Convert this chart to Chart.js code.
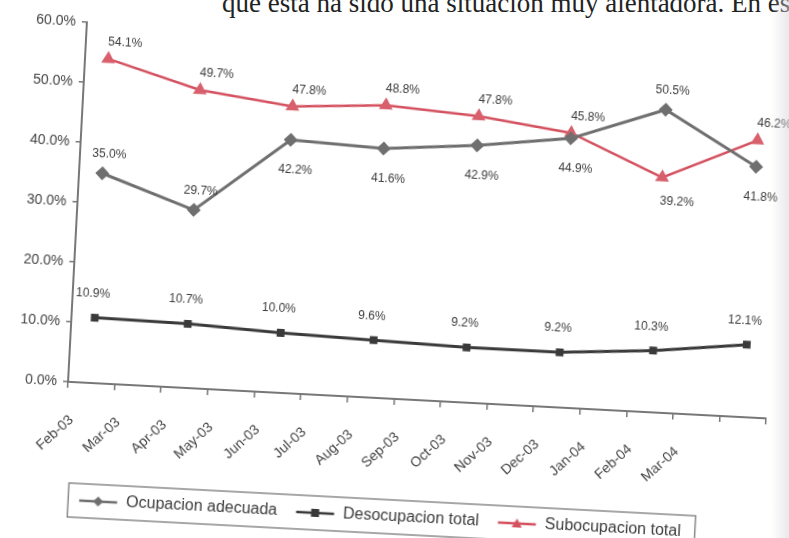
<!DOCTYPE html>
<html>
<head>
<meta charset="utf-8">
<script src="https://cdn.jsdelivr.net/npm/chart.js@4.4.1/dist/chart.umd.min.js"></script>
<style>
  html, body { margin: 0; padding: 0; background: #fff; overflow: hidden; width: 789px; height: 538px; }
  #wrap { position: relative; width: 789px; height: 538px; overflow: hidden; }
  #head { position: absolute; left: 222px; top: -12px; font-family: "Liberation Serif", "DejaVu Serif", serif; font-size: 27px; color: #222; white-space: nowrap; }
  #chart { position: absolute; left: 0; top: 0; transform: rotate(3deg); transform-origin: 420px 220px; filter: blur(0.4px); }
  #edge { position: absolute; right: 0; top: 0; width: 18px; height: 538px; background: linear-gradient(to right, rgba(255,255,255,0), rgba(214,214,220,0.55)); }
</style>
</head>
<body>
<div id="wrap">
  <div id="head">que ésta ha sido una situación muy alentadora. En es</div>
  <canvas id="chart" width="789" height="538"></canvas>
  <div id="edge"></div>
</div>
<script>
// x axis labels (the last slot of the axis has no label)
const monthLabels = ['Feb-03', 'Mar-03', 'Apr-03', 'May-03', 'Jun-03', 'Jul-03', 'Aug-03',
  'Sep-03', 'Oct-03', 'Nov-03', 'Dec-03', 'Jan-04', 'Feb-04', 'Mar-04', '']
// which month slot each observation belongs to
const pointMonths = [0, 2, 4, 6, 8, 10, 12, 14]

const ocupacionAdecuada = [35.0, 29.7, 42.2, 41.6, 42.9, 44.9, 50.5, 41.8]
const desocupacionTotal = [10.9, 10.7, 10.0, 9.6, 9.2, 9.2, 10.3, 12.1]
const subocupacionTotal = [54.1, 49.7, 47.8, 48.8, 47.8, 45.8, 39.2, 46.2]

const yTicks = [0, 10, 20, 30, 40, 50, 60]

// spread the observations over the monthly category axis
const toSlots = (values) => {
  const out = monthLabels.map(() => null)
  values.forEach((v, i) => { out[pointMonths[i]] = v })
  return out
}

// label side for each point: -1 above, 1 below
const labelSides = [
  [-1, -1, 1, 1, 1, 1, -1, 1],
  [-1, -1, -1, -1, -1, -1, -1, -1],
  [-1, -1, -1, -1, -1, -1, 1, -1]
]
const labelOffsets = [
  {dx: 6, up: 19, down: 30},
  {dx: -3, up: 24, down: 24},
  {dx: 16, up: 17, down: 24}
]

const GRAY = '#6f6f6f'
const DARK = '#3a3a3a'
const RED = '#d4505f'

const legendIcon = (color, style) => {
  const c = document.createElement('canvas')
  c.width = 40
  c.height = 14
  const g = c.getContext('2d')
  g.strokeStyle = color
  g.fillStyle = color
  g.lineWidth = 2.5
  g.beginPath(); g.moveTo(1, 7); g.lineTo(39, 7); g.stroke()
  g.beginPath()
  if (style === 'diamond') {
    g.moveTo(20, 2); g.lineTo(25, 7); g.lineTo(20, 12); g.lineTo(15, 7)
  } else if (style === 'square') {
    g.rect(16, 3, 8, 8)
  } else {
    g.moveTo(20, 2); g.lineTo(25, 11); g.lineTo(15, 11)
  }
  g.closePath(); g.fill()
  return c
}

const dataLabels = {
  id: 'dataLabels',
  afterDatasetsDraw(chart) {
    const ctx = chart.ctx
    ctx.save()
    ctx.font = '12px "Liberation Sans", Arial, sans-serif'
    ctx.fillStyle = '#3c3c3c'
    ctx.textAlign = 'center'
    ctx.textBaseline = 'middle'
    chart.data.datasets.forEach((ds, di) => {
      const meta = chart.getDatasetMeta(di)
      const off = labelOffsets[di]
      let k = 0
      meta.data.forEach((el, i) => {
        const v = ds.data[i]
        if (v === null) return
        const side = labelSides[di][k]
        k++
        const y = side < 0 ? el.y - off.up : el.y + off.down
        ctx.fillText(v.toFixed(1) + '%', el.x + off.dx, y)
      })
    })
    ctx.restore()
  }
}

const legendFrame = {
  id: 'legendFrame',
  afterDraw(chart) {
    const boxes = chart.legend.legendHitBoxes
    if (!boxes || !boxes.length) return
    const left = Math.min(...boxes.map(b => b.left)) - 10
    const right = Math.max(...boxes.map(b => b.left + b.width)) + 14
    const top = Math.min(...boxes.map(b => b.top)) - 9
    const bottom = Math.max(...boxes.map(b => b.top + b.height)) + 9
    const ctx = chart.ctx
    ctx.save()
    ctx.strokeStyle = '#8a8a8a'
    ctx.lineWidth = 1.5
    ctx.strokeRect(left, top, right - left, bottom - top)
    ctx.restore()
  }
}

const ctx = document.getElementById('chart')
new Chart(ctx, {
  type: 'line',
  data: {
    labels: monthLabels,
    datasets: [
      {
        label: 'Ocupacion adecuada',
        data: toSlots(ocupacionAdecuada),
        borderColor: GRAY,
        backgroundColor: GRAY,
        borderWidth: 3,
        pointStyle: 'rectRot',
        pointRadius: 7,
        pointBorderWidth: 0,
        spanGaps: true,
        tension: 0
      },
      {
        label: 'Desocupacion total',
        data: toSlots(desocupacionTotal),
        borderColor: DARK,
        backgroundColor: DARK,
        borderWidth: 3,
        pointStyle: 'rect',
        pointRadius: 5.5,
        pointBorderWidth: 0,
        spanGaps: true,
        tension: 0
      },
      {
        label: 'Subocupacion total',
        data: toSlots(subocupacionTotal),
        borderColor: RED,
        backgroundColor: '#d8606c',
        borderWidth: 2.5,
        pointStyle: 'triangle',
        pointRadius: 8,
        pointBorderWidth: 0,
        spanGaps: true,
        tension: 0
      }
    ]
  },
  options: {
    responsive: false,
    animation: false,
    devicePixelRatio: 1,
    layout: {padding: {top: 40, right: 7, bottom: 2, left: 8}},
    plugins: {
      tooltip: {enabled: false},
      legend: {
        position: 'bottom',
        labels: {
          usePointStyle: true,
          pointStyleWidth: 40,
          padding: 18,
          color: '#3c3c3c',
          font: {family: '"Liberation Sans", Arial, sans-serif', size: 16},
          generateLabels(chart) {
            const styles = ['diamond', 'square', 'triangle']
            return chart.data.datasets.map((ds, i) => ({
              text: ds.label,
              pointStyle: legendIcon(ds.borderColor, styles[i]),
              fillStyle: ds.borderColor,
              strokeStyle: ds.borderColor,
              lineWidth: 0,
              fontColor: '#3c3c3c',
              datasetIndex: i,
              hidden: false
            }))
          }
        }
      }
    },
    scales: {
      x: {
        offset: true,
        grid: {offset: true, drawOnChartArea: false, drawTicks: true, tickLength: 6, color: '#777', lineWidth: 1.5},
        border: {color: '#777', width: 2},
        ticks: {
          autoSkip: false,
          maxRotation: 45,
          minRotation: 45,
          labelOffset: -18,
          padding: 24,
          color: '#444',
          font: {family: '"Liberation Sans", Arial, sans-serif', size: 14},
          callback: (v, i) => monthLabels[i]
        },
        afterFit(scale) { scale.height = 92 }
      },
      y: {
        min: 0,
        max: 60,
        afterBuildTicks(scale) { scale.ticks = yTicks.map(v => ({value: v})) },
        grid: {drawOnChartArea: false, drawTicks: true, tickLength: 5, color: '#777', lineWidth: 1.5},
        border: {color: '#777', width: 2},
        ticks: {
          padding: 6,
          color: '#444',
          font: {family: '"Liberation Sans", Arial, sans-serif', size: 14},
          callback: (v) => v.toFixed(1) + '%'
        },
        afterFit(scale) { scale.width = 69 }
      }
    }
  },
  plugins: [dataLabels, legendFrame]
})
</script>
</body>
</html>
